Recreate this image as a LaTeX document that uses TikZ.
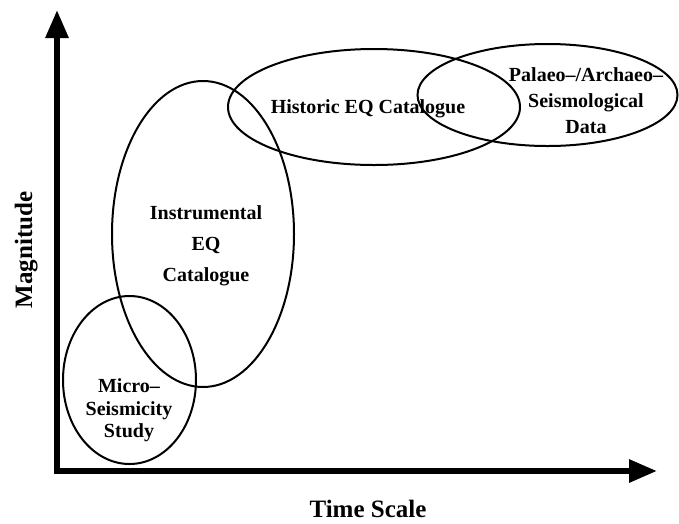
\documentclass[tikz,border=0pt]{standalone}
\usepackage{fontspec}
\setmainfont{Liberation Serif}
\usetikzlibrary{arrows.meta}
\begin{document}
\begin{tikzpicture}[x=1pt,y=-1pt,
  ring/.style={line width=2pt},
  axisline/.style={line width=6pt, line join=miter,
    arrows={Triangle[length=28pt,width=22pt]-Triangle[length=28pt,width=22pt]}},
  lbl/.style={font=\bfseries\fontsize{20}{26}\selectfont, align=center, inner sep=0pt},
  axislbl/.style={font=\bfseries\fontsize{25}{29}\selectfont, inner sep=0pt}]
\useasboundingbox (0,0) rectangle (679,523);
% axes
\coordinate (ytip) at (57,10);
\coordinate (origin) at (57,471);
\coordinate (xtip) at (657,471);
\draw[axisline] (ytip) -- (origin) -- (xtip);
% ellipses
\draw[ring] (129.5,380) ellipse [x radius=66.5pt, y radius=84pt];
\draw[ring] (203,234) ellipse [x radius=91pt, y radius=153pt];
\draw[ring] (374,107) ellipse [x radius=146pt, y radius=58pt];
\draw[ring] (547.5,95) ellipse [x radius=130pt, y radius=51pt];
% labels
\node[lbl] (micro) at (129,410.5) {Micro–\\[-3.5pt]Seismicity\\[-3.5pt]Study};
\node[lbl, font=\bfseries\fontsize{20}{31}\selectfont] (instr) at (206,246) {Instrumental\\EQ\\Catalogue};
\node[lbl, anchor=base] (hist) at (368,113) {Historic EQ Catalogue};
\node[lbl] (palaeo) at (586,101) {Palaeo–/Archaeo–\\Seismological\\Data};
\node[axislbl, anchor=base] (tscale) at (368,517) {Time Scale};
\node[axislbl, anchor=base, rotate=90] (mag) at (32,250) {Magnitude};
\end{tikzpicture}
\end{document}
